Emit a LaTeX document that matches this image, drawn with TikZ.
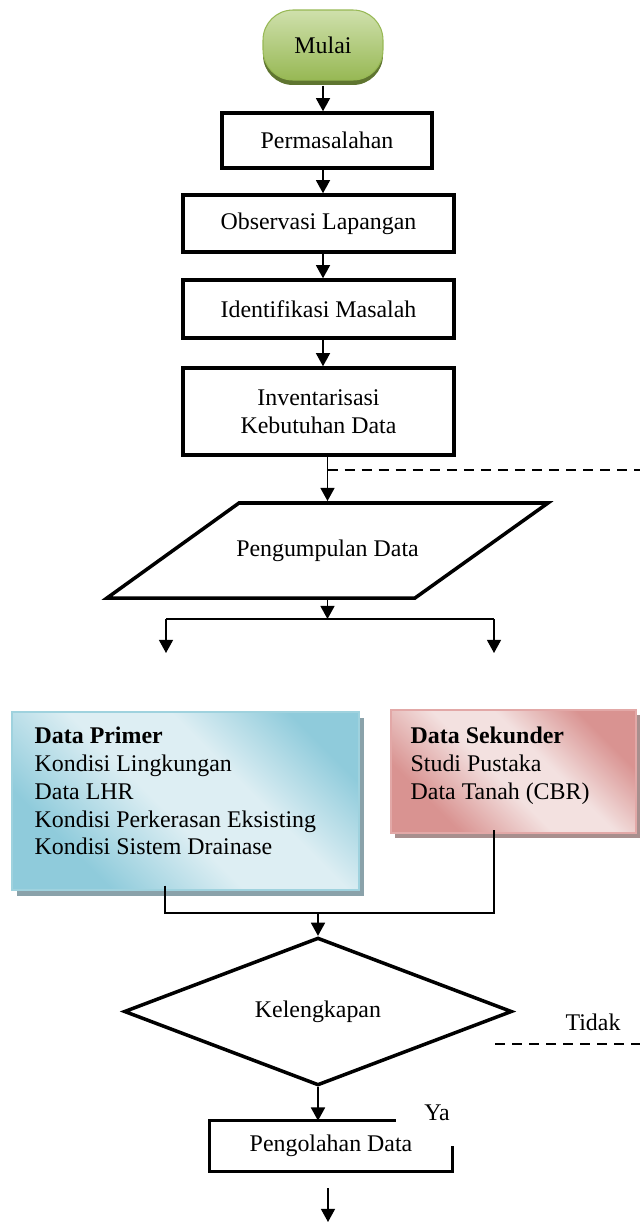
\documentclass[tikz,border=0pt]{standalone}
\usepackage{fontspec}
\setmainfont{Liberation Serif}
\usetikzlibrary{arrows.meta, calc, positioning, shapes.geometric, shadows}

\definecolor{mulaiTerang}{HTML}{CFE0AC}
\definecolor{mulaiGelap}{HTML}{97B854}
\definecolor{mulaiBayang}{HTML}{5F7530}
\definecolor{primerGelap}{HTML}{8FCBDB}
\definecolor{primerTerang}{HTML}{DDEEF3}
\definecolor{primerGaris}{HTML}{9FD2DE}
\definecolor{primerBayang}{HTML}{8AA2AA}
\definecolor{sekunderGelap}{HTML}{D99391}
\definecolor{sekunderTerang}{HTML}{F3E1E0}
\definecolor{sekunderGaris}{HTML}{E2A8A7}
\definecolor{sekunderBayang}{HTML}{A88F8E}

\pgfdeclarehorizontalshading{primerwarna}{100bp}{color(0bp)=(primerGelap); color(28bp)=(primerGelap); color(46bp)=(primerTerang); color(60bp)=(primerTerang); color(76bp)=(primerGelap); color(100bp)=(primerGelap)}
\pgfdeclarehorizontalshading{sekunderwarna}{100bp}{color(0bp)=(sekunderGelap); color(28bp)=(sekunderGelap); color(46bp)=(sekunderTerang); color(58bp)=(sekunderTerang); color(74bp)=(sekunderGelap); color(100bp)=(sekunderGelap)}

\tikzset{
  kotak/.style={draw, line width=2pt, align=center, inner sep=2pt},
  tebal/.style={line width=2pt},
  panah/.style={-{Triangle[width=8pt,length=7.5pt]}, line width=0.9pt},
  garis/.style={line width=0.9pt},
  putus/.style={line width=1.1pt, dash pattern=on 5.7pt off 4pt},
  isi/.style={align=left, inner sep=0pt},
}

\begin{document}
\begin{tikzpicture}[line cap=butt,line join=miter,x=0.02cm,y=-0.02cm,
  font=\fontsize{13.6}{15.9}\selectfont]
\useasboundingbox (0,0) rectangle (640,1227);

% urutan awal
\node[draw=mulaiGelap, line width=0.6pt, rounded corners=0.6cm,
  top color=mulaiTerang, bottom color=mulaiGelap,
  minimum width=2.4cm, minimum height=1.4cm,
  drop shadow={shadow xshift=0cm, shadow yshift=-0.1cm, fill=mulaiBayang, opacity=1}]
  (mulai) at (323,45) {Mulai};
\node[kotak, minimum width=4.2cm, minimum height=1.1cm] (masalah) at (327,140.5) {Permasalahan};
\node[kotak, minimum width=5.42cm, minimum height=1.14cm] (observasi) at (318.5,223.5) {Observasi Lapangan};
\node[kotak, minimum width=5.42cm, minimum height=1.16cm] (identifikasi) at (318.5,309) {Identifikasi Masalah};
\node[kotak, minimum width=5.42cm, minimum height=1.74cm] (inventaris) at (318.5,411.5) {Inventarisasi\\Kebutuhan Data};

% jajaran genjang
\node[minimum height=1.9cm, inner sep=0pt, outer sep=0pt] (kumpul) at (327.5,550.5) {Pengumpulan Data};
\draw[tebal] ($(kumpul)+(-88.5,-47.5)$) -- ($(kumpul)+(220.5,-47.5)$)
  -- ($(kumpul)+(87.5,47.5)$) -- ($(kumpul)+(-220.5,47.5)$) -- cycle;

\draw[panah] ([yshift=-0.1cm]mulai.south) -- (mulai.south |- masalah.north);
\draw[panah] (masalah.south -| mulai) -- (observasi.north -| mulai);
\draw[panah] (observasi.south -| mulai) -- (identifikasi.north -| mulai);
\draw[panah] (identifikasi.south -| mulai) -- (inventaris.north -| mulai);
\draw[panah] (inventaris.south -| kumpul) -- ([yshift=0.04cm]kumpul.north);

\coordinate (balik) at (327.5,470);
\coordinate (balikUjung) at (640,470);
\draw[putus] (balik) -- (balikUjung);

% percabangan data
\coordinate (cabangKiri) at (166,619);
\coordinate (cabangKanan) at (494,619);
\coordinate (keKiri) at (166,653);
\coordinate (keKanan) at (494,653);
\draw[panah] ([yshift=-0.04cm]kumpul.south) -- (kumpul.south |- cabangKiri);
\draw[garis] (cabangKiri) -- (cabangKanan);
\draw[panah] (cabangKiri) -- (keKiri);
\draw[panah] (cabangKanan) -- (keKanan);

\node[draw=primerGaris, line width=0.8pt, shading=primerwarna, shading angle=45,
  minimum width=6.94cm, minimum height=3.56cm,
  drop shadow={shadow xshift=0.1cm, shadow yshift=-0.12cm, fill=primerBayang, opacity=1}]
  (primer) at (185.5,801) {};
\node[isi, anchor=north west] (primerIsi) at ([xshift=0.46cm, yshift=-0.3cm]primer.north west)
  {\textbf{Data Primer}\\Kondisi Lingkungan\\Data LHR\\Kondisi Perkerasan Eksisting\\Kondisi Sistem Drainase};

\node[draw=sekunderGaris, line width=0.8pt, shading=sekunderwarna, shading angle=45,
  minimum width=4.9cm, minimum height=2.46cm,
  drop shadow={shadow xshift=0.08cm, shadow yshift=-0.1cm, fill=sekunderBayang, opacity=1}]
  (sekunder) at (513.5,771.5) {};
\node[isi, anchor=north west] (sekunderIsi) at ([xshift=0.4cm, yshift=-0.34cm]sekunder.north west)
  {\textbf{Data Sekunder}\\Studi Pustaka\\Data Tanah (CBR)};

% penggabungan
\coordinate (gabungKiri) at (165,913);
\coordinate (gabungKanan) at (494,913);
\draw[garis] ([yshift=0.1cm]primer.south -| gabungKiri) -- (gabungKiri) -- (gabungKanan) -- ([yshift=0.08cm]sekunder.south -| gabungKanan);

\node[kotak, diamond, minimum width=7.76cm, minimum height=2.06cm, inner sep=0pt]
  (lengkap) at (318,1011.5) {Kelengkapan};
\draw[panah] (lengkap.north |- gabungKiri) -- (lengkap.north);

\coordinate (tidakAwal) at (495,1044);
\coordinate (tidakUjung) at (640,1044);
\draw[putus] (tidakAwal) -- (tidakUjung);
\node (tidak) at (593,1022) {Tidak};

\node[minimum width=4.84cm, minimum height=1.0cm, inner sep=0pt] (olah) at (331,1146) {Pengolahan Data};
\draw[tebal] ([xshift=1.3cm]olah.north) -- (olah.north west) -- (olah.south west)
  -- (olah.south east) -- (olah.east);
\draw[panah] (lengkap.south) -- (lengkap.south |- olah.north);
\node (ya) at (437,1113) {Ya};

\coordinate (lanjut) at (328,1188);
\coordinate (akhir) at (328,1222);
\draw[panah] (lanjut) -- (akhir);
\end{tikzpicture}
\end{document}
